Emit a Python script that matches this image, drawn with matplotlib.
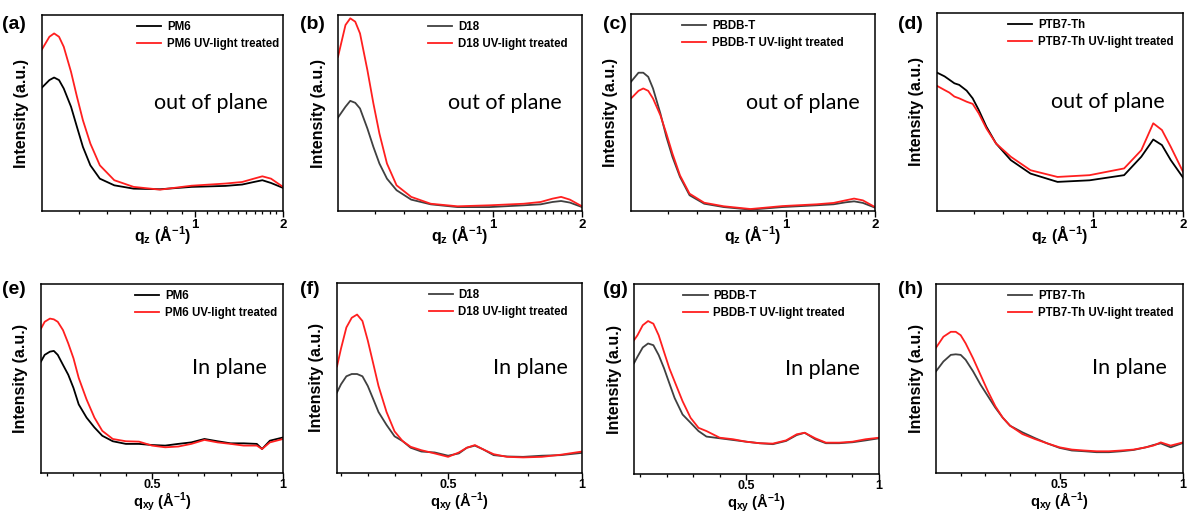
import matplotlib
matplotlib.use("Agg")
import matplotlib.pyplot as plt
from matplotlib.ticker import FixedLocator, NullFormatter

plt.rcParams["font.family"] = ["Liberation Sans", "DejaVu Sans"]
plt.rcParams["mathtext.fontset"] = "custom"
plt.rcParams["mathtext.rm"] = "Liberation Sans:bold"
plt.rcParams["mathtext.it"] = "Liberation Sans:bold"
plt.rcParams["mathtext.bf"] = "Liberation Sans:bold"

# ---- out-of-plane line cuts (q_z, log axis) ----
Q_OOP = [0.30, 0.318, 0.33, 0.343, 0.356, 0.377, 0.395, 0.414, 0.439, 0.473,
         0.53, 0.617, 0.76, 0.973, 1.27, 1.45, 1.59, 1.70, 1.82, 2.0]

PM6_OOP = [0.63, 0.668, 0.681, 0.668, 0.625, 0.532, 0.429, 0.327, 0.233, 0.165,
           0.131, 0.114, 0.111, 0.123, 0.128, 0.135, 0.148, 0.157, 0.143, 0.118]
PM6_UV_OOP = [0.825, 0.889, 0.906, 0.889, 0.838, 0.71, 0.583, 0.463, 0.344, 0.233,
              0.157, 0.123, 0.109, 0.129, 0.14, 0.148, 0.165, 0.177, 0.165, 0.123]

D18_OOP = [0.477, 0.532, 0.562, 0.552, 0.523, 0.421, 0.327, 0.242, 0.165, 0.106,
           0.058, 0.034, 0.02, 0.02, 0.029, 0.034, 0.046, 0.051, 0.043, 0.02]
D18_UV_OOP = [0.787, 0.949, 0.983, 0.966, 0.906, 0.719, 0.549, 0.395, 0.242, 0.131,
              0.072, 0.037, 0.024, 0.029, 0.037, 0.046, 0.063, 0.072, 0.058, 0.024]

PBDB_OOP = [0.656, 0.702, 0.702, 0.681, 0.622, 0.495, 0.376, 0.275, 0.173, 0.08,
            0.037, 0.02, 0.007, 0.02, 0.029, 0.034, 0.044, 0.049, 0.041, 0.017]
PBDB_UV_OOP = [0.571, 0.61, 0.622, 0.61, 0.571, 0.486, 0.393, 0.292, 0.181, 0.088,
               0.042, 0.024, 0.01, 0.025, 0.034, 0.041, 0.054, 0.063, 0.054, 0.02]

PTB7_OOP = [0.699, 0.68, 0.663, 0.645, 0.637, 0.608, 0.569, 0.51, 0.426, 0.341,
            0.257, 0.189, 0.147, 0.155, 0.181, 0.274, 0.361, 0.333, 0.257, 0.169]
PTB7_UV_OOP = [0.632, 0.611, 0.598, 0.578, 0.569, 0.552, 0.541, 0.493, 0.417, 0.341,
               0.274, 0.206, 0.172, 0.181, 0.215, 0.307, 0.443, 0.409, 0.324, 0.198]

# ---- in-plane line cuts (q_xy, linear axis) ----
Q_IP_PM6 = [0.076, 0.09, 0.11, 0.125, 0.14, 0.16, 0.18, 0.2, 0.22, 0.25, 0.28, 0.31,
            0.35, 0.4, 0.45, 0.5, 0.55, 0.6, 0.65, 0.7, 0.75, 0.8, 0.85, 0.9, 0.92,
            0.95, 1.0]
PM6_IP = [0.59, 0.625, 0.642, 0.646, 0.625, 0.572, 0.52, 0.45, 0.363, 0.293, 0.241,
          0.197, 0.168, 0.154, 0.154, 0.148, 0.145, 0.154, 0.162, 0.18, 0.168, 0.157,
          0.157, 0.154, 0.127, 0.171, 0.188]
PM6_UV_IP = [0.764, 0.80, 0.817, 0.813, 0.80, 0.756, 0.686, 0.607, 0.503, 0.389,
             0.293, 0.223, 0.18, 0.168, 0.166, 0.145, 0.136, 0.14, 0.154, 0.175, 0.162,
             0.154, 0.145, 0.145, 0.127, 0.162, 0.18]

Q_IP_D18 = [0.085, 0.10, 0.12, 0.14, 0.16, 0.18, 0.20, 0.22, 0.24, 0.27, 0.30, 0.33,
            0.36, 0.40, 0.45, 0.50, 0.54, 0.57, 0.60, 0.63, 0.67, 0.72, 0.78, 0.85,
            0.92, 1.0]
D18_IP = [0.424, 0.467, 0.509, 0.521, 0.521, 0.509, 0.458, 0.39, 0.321, 0.253, 0.193,
          0.168, 0.133, 0.113, 0.108, 0.091, 0.103, 0.133, 0.144, 0.125, 0.094, 0.087,
          0.085, 0.091, 0.094, 0.106]
D18_UV_IP = [0.561, 0.655, 0.766, 0.817, 0.834, 0.80, 0.697, 0.578, 0.458, 0.321,
             0.219, 0.168, 0.138, 0.12, 0.103, 0.085, 0.108, 0.133, 0.147, 0.125, 0.099,
             0.085, 0.082, 0.085, 0.096, 0.113]

Q_IP_PBDB = [0.077, 0.09, 0.11, 0.13, 0.15, 0.17, 0.19, 0.21, 0.23, 0.26, 0.29, 0.32,
             0.35, 0.40, 0.45, 0.50, 0.55, 0.60, 0.65, 0.69, 0.72, 0.76, 0.80, 0.85,
             0.90, 0.95, 1.0]
PBDB_IP = [0.583, 0.617, 0.666, 0.687, 0.678, 0.626, 0.557, 0.478, 0.40, 0.313, 0.27,
           0.226, 0.197, 0.188, 0.179, 0.17, 0.162, 0.157, 0.174, 0.205, 0.217, 0.183,
           0.162, 0.162, 0.167, 0.177, 0.188]
PBDB_UV_IP = [0.704, 0.73, 0.783, 0.805, 0.791, 0.73, 0.643, 0.557, 0.487, 0.383,
              0.296, 0.243, 0.226, 0.191, 0.183, 0.17, 0.162, 0.16, 0.177, 0.209, 0.217,
              0.188, 0.165, 0.165, 0.17, 0.183, 0.191]

Q_IP_PTB7 = [0.0, 0.03, 0.06, 0.08, 0.10, 0.12, 0.15, 0.18, 0.21, 0.24, 0.27, 0.30,
             0.35, 0.40, 0.45, 0.50, 0.55, 0.60, 0.65, 0.70, 0.75, 0.80, 0.85, 0.88,
             0.91, 0.95, 1.0]
PTB7_IP = [0.538, 0.59, 0.625, 0.628, 0.625, 0.599, 0.538, 0.468, 0.407, 0.346, 0.293,
           0.25, 0.215, 0.185, 0.157, 0.133, 0.119, 0.115, 0.11, 0.11, 0.115, 0.122,
           0.136, 0.148, 0.157, 0.136, 0.159]
PTB7_UV_IP = [0.663, 0.721, 0.747, 0.747, 0.729, 0.686, 0.607, 0.52, 0.433, 0.354,
              0.293, 0.25, 0.206, 0.18, 0.157, 0.136, 0.124, 0.119, 0.115, 0.115, 0.119,
              0.124, 0.136, 0.145, 0.162, 0.145, 0.162]

NAMES = ["PM6", "D18", "PBDB-T", "PTB7-Th"]
PANEL_LABELS = ["(a)", "(b)", "(c)", "(d)", "(e)", "(f)", "(g)", "(h)"]

W, H = 1188, 514
RED = "#ff1f1f"


def px_axes(fig, left, top, right, bottom):
    return fig.add_axes([left / W, 1 - bottom / H, (right - left) / W, (bottom - top) / H])


def style(ax, pad, size, length):
    for s in ax.spines.values():
        s.set_linewidth(1.1)
    ax.set_ylim(0, 1)
    ax.set_yticks([])
    ax.tick_params(axis="x", which="major", direction="out", length=length, width=1,
                   pad=pad, labelsize=size)
    ax.tick_params(axis="x", which="minor", direction="out", length=2.5, width=0.9)
    for t in ax.get_xticklabels():
        t.set_fontweight("bold")
    ax.set_ylabel("Intensity (a.u.)", fontsize=11.5, fontweight="bold", labelpad=9)


def add_legend(ax, x):
    ax.legend(loc="upper left", bbox_to_anchor=(x, 0.998), frameon=False,
              prop={"weight": "bold", "size": 8.3}, handlelength=2.1, handletextpad=0.5,
              labelspacing=0.4, borderaxespad=0.2, borderpad=0.3)


fig = plt.figure(figsize=(W / 100, H / 100), dpi=100)

top_boxes = [(42, 15, 283, 211), (338, 15, 582, 211), (631, 14, 875, 211), (937, 13, 1183, 211)]
bot_boxes = [(41, 284, 283, 473), (337, 283, 582, 473), (634, 284, 879, 474), (936, 284, 1183, 473)]

oop = [(PM6_OOP, PM6_UV_OOP), (D18_OOP, D18_UV_OOP), (PBDB_OOP, PBDB_UV_OOP), (PTB7_OOP, PTB7_UV_OOP)]
ip_q = [Q_IP_PM6, Q_IP_D18, Q_IP_PBDB, Q_IP_PTB7]
ip = [(PM6_IP, PM6_UV_IP), (D18_IP, D18_UV_IP), (PBDB_IP, PBDB_UV_IP), (PTB7_IP, PTB7_UV_IP)]

black_col = ["#000000", "#404040", "#404040", "#000000"]
black_col_ip = ["#000000", "#404040", "#404040", "#404040"]
leg_x_top = [0.37, 0.345, 0.185, 0.265]
leg_x_bot = [0.365, 0.35, 0.178, 0.268]
txt_x_top = [0.70, 0.685, 0.705, 0.695]
txt_x_bot = [0.78, 0.79, 0.77, 0.785]

for i in range(4):
    # out of plane
    ax = px_axes(fig, *top_boxes[i])
    ax.plot(Q_OOP, oop[i][0], color=black_col[i], lw=1.3, label=NAMES[i])
    ax.plot(Q_OOP, oop[i][1], color=RED, lw=1.3, label=NAMES[i] + " UV-light treated")
    ax.set_xscale("log")
    ax.set_xlim(0.3, 2.0)
    ax.xaxis.set_major_locator(FixedLocator([1, 2]))
    ax.xaxis.set_minor_locator(FixedLocator([0.4, 0.5, 0.6, 0.7, 0.8, 0.9,
                                             1.1, 1.2, 1.3, 1.4, 1.5, 1.6, 1.7, 1.8, 1.9]))
    ax.set_xticklabels(["1", "2"])
    ax.xaxis.set_minor_formatter(NullFormatter())
    style(ax, 1.5, 9.5, 4.5)
    ax.set_xlabel(r"q$_{z}$ (Å$^{-1}$)", fontsize=11.5, fontweight="bold")
    ax.xaxis.set_label_coords(0.5, -0.065)
    ax.text(txt_x_top[i], 0.55, "out of plane", transform=ax.transAxes, fontsize=15.5,
            family="Lato", ha="center", va="center")
    add_legend(ax, leg_x_top[i])

    # in plane
    ax = px_axes(fig, *bot_boxes[i])
    ax.plot(ip_q[i], ip[i][0], color=black_col_ip[i], lw=1.3, label=NAMES[i])
    ax.plot(ip_q[i], ip[i][1], color=RED, lw=1.3, label=NAMES[i] + " UV-light treated")
    ax.set_xlim(ip_q[i][0], 1.0)
    ax.xaxis.set_major_locator(FixedLocator([0.5, 1.0]))
    ax.xaxis.set_minor_locator(FixedLocator([0.1, 0.2, 0.3, 0.4, 0.6, 0.7, 0.8, 0.9]))
    ax.set_xticklabels(["0.5", "1"])
    ax.xaxis.set_minor_formatter(NullFormatter())
    style(ax, 0.0, 9, 4)
    ax.set_xlabel(r"q$_{xy}$ (Å$^{-1}$)", fontsize=10.5, fontweight="bold")
    ax.xaxis.set_label_coords(0.5, -0.095)
    ax.text(txt_x_bot[i], 0.555, "In plane", transform=ax.transAxes, fontsize=15.5,
            family="Lato", ha="center", va="center")
    add_legend(ax, leg_x_bot[i])

lab_x = [2, 300, 603, 898]
for i in range(4):
    fig.text(lab_x[i] / W, 1 - 24 / H, PANEL_LABELS[i], fontsize=14, fontweight="bold",
             ha="left", va="center")
    fig.text(lab_x[i] / W, 1 - 290 / H, PANEL_LABELS[i + 4], fontsize=14, fontweight="bold",
             ha="left", va="center")

fig.savefig("out.png", dpi=100)
